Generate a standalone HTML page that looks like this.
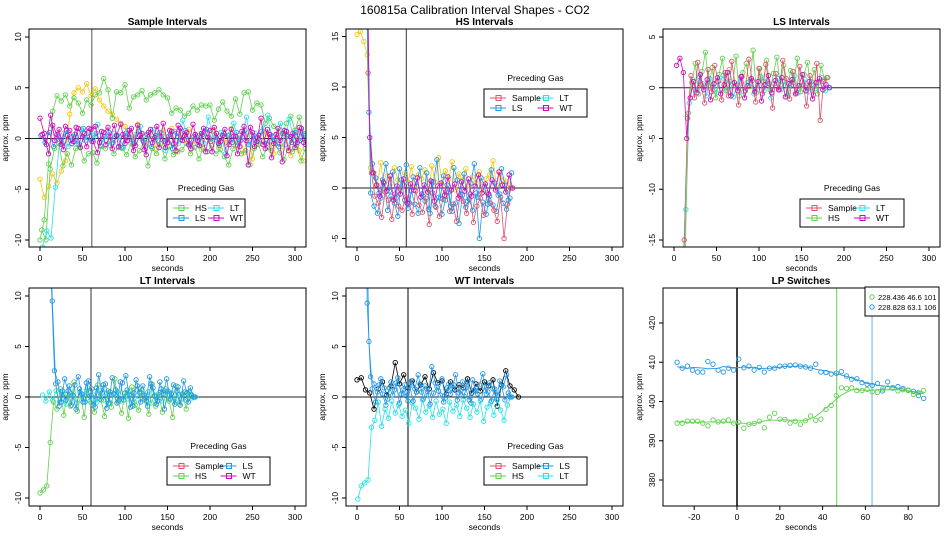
<!DOCTYPE html>
<html><head><meta charset="utf-8"><style>
html,body{margin:0;padding:0;width:950px;height:550px;overflow:hidden;background:#fff}
svg{font-family:"Liberation Sans",Arial,sans-serif;display:block}
</style></head><body>
<svg id="c" width="950" height="550" viewBox="0 0 950 550">
<text x="475" y="14" text-anchor="middle" font-size="12">160815a   Calibration Interval Shapes - CO2</text>
</svg>
<script>
const COL={red:"#DF536B",green:"#61D04F",blue:"#2297E6",cyan:"#28E2E5",magenta:"#CD0BBC",orange:"#F5C710",black:"#000"};
// ---- Panel 1: Sample intervals (t = 0,5,...)
const p1HsHigh=[-10,-8,-2.5,2.7,4.2,3.7,4.3,3.2,4,3.5,2.5,3.8,3.3,4.3,4.5,5.9,4.8,2,4.6,4.5,5.3,3,4.1,4.3,4.7,3.8,4.3,4.5,4.8,4.3,4,2.5,3,2.8,2.2,2.5,3.2,2.8,3.3,3.2,3.3,1.8,2.9,3.6,2.7,2.2,3.9,2.4,4.5,4.6,2.8,3.5,3.3,1.5,2,1.2,1,0.5,1.5,2.2,0.8,2.1,0.5];
const p1HsLow=[-9,-10,-3,-1,-0.5,-2.7,-1.5,-2.6,-1,-0.8,-2.2,-1.5,-1.4,-2.4,-0.8,-1,-0.3,-1.5,-0.9,-1,-1.6,-0.5,-1.8,-1.2,-0.4,-2.7,-1,-1.5,-0.5,-2,-0.8,-1.6,-1.3,-1.1,-0.5,-1.5,-0.9,-2,-1,-1.3,-0.7,-1.5,-1.1,-1.8,-2.6,-1,-0.4,-1.5,-1.2,-2.6,-1,-0.6,-1.8,-0.9,-1.2,-0.5,-1.4,-2.1,-0.9,-1.3,-0.7,-2.2,-1];
const p1Orange=[-4,-5.8,-4.7,-3.5,-4.4,-3.2,-2.2,2.4,4.5,5,4.6,5.4,4.2,4.9,3.8,3.2,2.7,2.4,1.9,1.5,1.2,0.5,-0.2,1.4,0.3,-0.7,0.6,-1,0.2,0.8,-0.5,1,-1.3,0.4,-0.2,0.9,-0.6,0.3,-1.1,0.5,-0.3,0.8,-0.9,0.2,-0.4,1,-0.7,0.3,-1.4,0.6,-2,0.1,-0.5,0.7,-0.3,-1.5,0.4,-0.8,0.2,-1.7,0.5,-1.2,-2.2];
const p1WtA=[2,0.5,-1.5,1.3,0.4,-0.6,1.2,0.8,-0.3,1,0.2,-0.8,0.9,1.2,-0.4,0.6,1.1,-1,0.3,1.4,-0.5,0.8,-1.2,1.3,0.5,-1.6,0.9,0.1,-0.9,1.5,-0.4,0.7,-1.2,1,0.3,-0.6,1.4,-0.2,0.5,-1.3,0.8,1.1,-0.5,0.3,-1.7,0.9,0.2,-0.8,1.2,-2.6,0.6,-0.3,2,-1,0.4,-0.5,1,-2.3,0.7,0.2,-0.9,1.1,-0.4];
const p1WtB=[0.4,-0.6,2.3,-0.2,0.9,-1.1,0.3,-0.5,1.1,-0.9,0.5,1,-0.3,-1.4,0.7,-0.6,0.2,1.3,-0.8,0.4,-0.2,1,-0.7,0.3,-1.1,0.6,-0.4,1.2,0.2,-0.9,0.8,-0.5,1.3,-0.2,0.6,-1,0.4,-0.7,1,0.1,-1.3,0.5,-0.3,0.9,-0.6,0.2,-1.5,0.7,-0.2,1.1,-0.8,0.3,-0.6,0.9,-1.9,0.4,-0.2,0.8,-1.2,0.5,-0.4,1,-0.6];
const p1Lt=[-10.7,-9.1,-9.8,-4.8,-0.3,0.5,-0.8,0.2,-0.5,0.9,-0.2,0.6,0.1,1.4,-0.4,0.3,-0.7,0.5,0.2,-0.9,0.8,-0.3,0.4,1.2,-0.6,0.2,0.9,-0.2,0.5,-1.2,0.3,0.7,-0.5,1.8,0.2,-0.8,0.4,0.1,-0.5,2.1,0.3,-0.2,0.6,-1.5,0.4,1.5,-0.4,0.2,2.1,-0.6,0.5,-0.2,1,2.3,-0.3,0.4,1.5,-0.6,1.9,0.2,-0.4,0.6,0.1];
const p1Ls=[0.3,-0.4,0.6,-0.8,0.2,-0.5,0.8,-0.2,0.4,-0.6,1,0.1,-0.3,0.5,-0.7,0.2,0.6,-0.4,0.3,-0.9,0.5,0.1,-0.5,0.7,-0.2,0.4,-0.8,0.3,0.6,-0.3,0.2,-1,0.5,-0.1,0.8,-0.5,0.2,-0.6,0.4,0.9,-0.3,0.1,-0.7,0.5,0.3,-0.4,0.6,-0.2,0.8,-0.6,0.2,-0.3,0.7,-0.5,0.4,-0.1,-0.8,0.5,0.2,-0.4,0.6,-0.2,0.3];
// ---- Panel 2: HS intervals (t = 0,4,...)
const p2Orange=[15.2,15.5,14.5,13.2,2,1.5,0.3,2.5,-0.2,1.2,0.5,2,0.8,-0.3,1.5,0.6,2.1,0.2,1.3,0.9,1.8,-0.5,2.2,0.6,3,0.4,1.7,0.9,2.6,-0.2,1.4,0.8,1.9,0.2,1.1,0.5,1.6,-0.4,0.9,1.3,2.7,0.3,1.5,0.8,0.6,0];
const p2LsA=[30,30,30,20,-0.5,-1.8,-2.5,-1,0.5,-2.2,-0.8,-1.5,-2.8,0.8,-1.2,-2,-0.3,-1.6,-2.5,-0.6,-1.3,-2.1,0.6,-1.8,-0.9,-2.6,-1.2,-0.4,-2.3,-1.5,-3.5,-0.7,-1.9,-1.1,-2.2,-0.5,-5,-1.4,-2.6,-0.8,-1.7,-2.3,-0.6,-1.5,-2.1,-1];
const p2LsB=[30,30,25,7.5,2.4,1,-0.5,0.8,2.4,-0.3,1.6,-1,1.9,0.4,2.3,-1.5,1.1,0.2,2,-0.8,1.5,-2.5,0.6,2.8,-1,1.2,0.3,-1.8,2,0.8,-0.6,1.4,-1.3,0.5,2.4,-0.9,1,0.2,-1.6,1.8,0.5,-0.7,1.9,0.3,-1.2,1.5];
const p2Sample=[30,30,30,11.4,1.5,-0.8,-1.5,-2.9,-0.4,-1.2,-3.1,-0.6,-1.8,-2.2,-0.9,-1.4,-2.6,-0.3,-1.7,-2.4,-1,-3.6,-0.5,-1.9,-2.8,-1.1,-0.4,-2.3,-1.6,-3.3,-0.8,-1.3,-2.5,-0.6,-3.4,-1.8,-1,-2.7,-0.5,-1.5,-2.2,-3.3,-0.9,-5,-1.6,0];
const p2Wt=[30,30,30,5,1.5,0.3,-0.8,0.6,-0.3,1.2,-1.2,0.2,-0.6,0.9,-1.5,0.4,-0.2,1,-0.9,0.3,-0.4,0.7,-1.3,0.2,0.5,-0.7,1.1,-0.2,0.4,-1,0.6,-0.3,0.9,-0.8,0.2,1.3,-0.5,0.4,-0.6,0.8,-0.2,1.6,0.3,-0.4,1.3,0];
// ---- Panel 3: LS intervals
const p3Sample=[-20,-20,-20,-15,-3,1.2,-1,2.5,0.3,-1.5,1.8,-0.4,2.2,0.6,-1.2,1.5,-0.8,2.6,0.2,-1.7,1.1,-0.3,2.8,0.7,-1.4,1.9,-0.6,2.3,0.4,-2,1.4,-0.2,2.7,0.9,-1.1,1.6,-0.5,2.1,0.3,-1.8,1.2,-0.7,2.4,-3.2,0.6,1];
const p3Hs=[-20,-20,-20,-17,-2.5,0.5,2.4,-0.6,1.6,3.5,0.2,2,-1,1.3,2.9,-0.3,1.8,0.4,3.1,-0.8,1.5,2.4,0.1,3.7,-0.5,1.9,0.6,2.7,-0.2,1.4,3,0.3,2.2,-0.9,1.7,0.5,2.9,-0.4,1.3,2.5,0,1.8,-0.6,2.2,0.8,1];
const p3Wt=[2.2,2.9,1.5,-5,-1,0.6,-0.5,1.3,-0.2,0.8,-1.2,0.4,1,-0.6,0.3,1.5,-0.8,0.5,-0.3,1.1,-1,0.2,0.9,-0.4,0.6,-1.3,0.3,1.2,-0.5,0.7,-0.2,1,-0.9,0.4,0.8,-0.6,0.2,1.3,-0.3,0.6,-1.1,0.5,0.9,-0.2,0.3,0];
const p3Lt=[-20,-20,-20,-12,-1.5,0.8,-0.3,1.1,0.4,-0.8,0.9,0.1,-0.5,0.7,1.2,-0.2,0.6,-0.9,0.3,1,-0.4,0.5,0.8,-0.6,0.2,1.1,-0.3,0.7,-1,0.4,0.9,-0.2,0.6,-0.7,0.3,1.2,-0.5,0.2,0.8,-0.4,0.6,-0.1,0.5,1,-0.3,0];
// ---- Panel 4: LT intervals
const p4Hs=[-9.5,-9.2,-8.8,-4.5,-0.5,-1.2,0.8,-1.8,0.3,-0.9,1.5,-1.4,0.2,-2,0.9,-0.6,-1.5,1.2,-0.3,-1.9,0.6,-1,1.8,-0.5,-1.6,0.4,-2.1,1,-0.8,-1.3,0.7,-0.2,-1.7,1.3,-0.9,0.2,-1.5,0.8,-0.4,-2,1.1,-0.7,0.3,-1.2,0.5,0];
const p4LsA=[30,30,30,12,2.6,1.5,-0.5,1.8,0.6,-0.8,1.2,2,0.3,-0.5,1.6,0.8,-1,2.2,0.4,1.3,-0.6,1.9,0.7,-0.3,1.4,2.1,0.2,-0.9,1.7,0.5,1.1,-0.4,2,0.9,-0.7,1.5,0.3,1.8,-0.2,1.2,0.6,-0.8,1.6,0.4,0.9,0];
const p4LsB=[30,30,20,9.5,1.3,-0.9,0.6,-0.3,1.1,0.2,-1.2,0.8,-0.5,1.4,0.1,-0.8,0.9,-0.2,1.2,-1.1,0.5,0.3,-0.6,1.5,-0.3,0.7,-1,0.4,1.1,-0.5,0.2,-0.9,1.3,0.1,-0.4,0.8,-1.2,0.6,0.3,-0.7,1,-0.2,0.5,-0.5,0.2,0];
const p4Lt=[0.2,-0.4,0.5,-0.3,0.6,-0.5,0.3,-0.7,0.4,0.1,-0.6,0.5,-0.2,0.7,-0.4,0.2,-0.5,0.6,-0.3,0.4,-0.6,0.2,0.5,-0.4,0.3,-0.2,0.6,-0.5,0.1,0.4,-0.3,0.5,-0.6,0.2,0.3,-0.4,0.6,-0.2,0.4,-0.5,0.2,0.3,-0.3,0.5,-0.1,0];
// ---- Panel 5: WT intervals
const p5LsA=[30,30,30,9.3,2,1.3,0.5,1.8,0.9,-0.2,1.5,0.7,1.9,0.3,1.2,-0.4,1.6,0.8,2.2,0.5,1.1,0.2,3,1.4,0.6,1.8,-0.1,1.3,0.8,2.2,0.4,1.5,0.9,-0.3,1.7,0.6,1.2,2.3,0.3,1.4,0.8,-0.2,1.6,1,2.2,0];
const p5LsB=[30,30,25,5.5,0.8,-0.5,1.2,0.3,-0.8,0.9,0.2,1.4,-0.6,0.7,0.1,1.1,-0.4,0.5,1.3,-0.2,0.8,-0.7,0.4,1,0.2,-0.5,0.9,0.3,1.2,-0.3,0.6,0.1,1.5,-0.6,0.7,0.3,-0.2,1,0.5,-0.4,0.8,0.2,1.1,-0.3,0.4,0];
const p5Lt=[-10.1,-8.8,-8.5,-8.2,-3,-2.3,-0.5,-2.9,-1.2,-2.1,-0.4,-1.6,-0.8,-1.9,-1.3,-2.6,-0.6,-1.1,-2.2,-0.3,-1.5,-0.9,-2,-0.4,-1.7,-1.2,-2.6,-0.5,-1.4,-0.8,-1.9,-0.3,-1.1,-2,-0.7,-1.5,-0.4,-2.4,-1,-0.6,-1.8,-0.3,-1.3,-2.3,-0.8,0];
const p5Black=[1.7,1.9,0.7,0.4,-1.2,0.8,1.5,0.2,1.1,3.4,1.3,2.2,0.9,1.6,0.5,1.2,2,0.8,2.4,1.4,1.6,0.3,1.5,0.7,1.2,0.9,1.8,0.4,1.3,0.6,1.5,1.1,1.7,-0.9,1.2,2.6,1.1,0.7,0];
// ---- Panel 6: LP switches (t = -28 + 2.4 i)
const p6Blue=[410,408.5,409,408,407.5,407.5,410.2,409.5,408,407.5,408.5,408,410.8,408.6,409,408,408.7,407.5,408.5,408.5,409,409,409.2,409.3,409,408.8,408.5,409.5,407.5,407.4,407,407.2,407.6,406.5,405.7,405.8,404.8,404.4,404.1,404.6,402.7,405,403.4,403.8,403.3,402.9,402.6,401.5,400.8];
const p6Green=[394.5,394.5,395,395,395,394.5,393.8,395.3,394.8,395,395.3,394.5,394.7,393.2,394.2,394.4,395,393.3,396,397,395.5,395.4,394.5,395,394.2,395.1,396.3,395.2,395.5,398,399,401.5,403.5,403.3,403.5,402.8,402.8,403.1,402.5,402.3,403.2,403.5,403.6,402.7,403,402.8,401.8,402.3,402.8];
const p6Switch=[46.6,63.1];
const xTicks=[0,50,100,150,200,250,300];
const p6XTicks=[-20,0,20,40,60,80];

const NS="http://www.w3.org/2000/svg";
const svg=document.getElementById('c');
function mk(tag,attrs,parent){const e=document.createElementNS(NS,tag);for(const k in attrs)e.setAttribute(k,attrs[k]);(parent||svg).appendChild(e);return e;}
let clipN=0;
function panel(P){
  const g=mk('g',{});
  
  
  const id='clip'+(clipN++);
  const cp=mk('clipPath',{id:id},g);mk('rect',{x:P.L,y:P.T,width:P.R-P.L,height:P.B-P.T},cp);
  const X=t=>P.x0+P.xs*t, Y=v=>P.y0-P.ys*v;
  P.X=X;P.Y=Y;
  const dg=mk('g',{'clip-path':'url(#'+id+')'},g);
  P.dg=dg;
  mk('line',{x1:P.L,x2:P.R,y1:Y(P.href),y2:Y(P.href),stroke:'#222','stroke-width':1},dg);
  (P.vlines||[]).forEach(v=>mk('line',{x1:X(v[0]),x2:X(v[0]),y1:P.T,y2:P.B,stroke:v[1],'stroke-width':v[2]||1},dg));
  const box=mk('rect',{x:P.L,y:P.T,width:P.R-P.L,height:P.B-P.T,fill:'none',stroke:'#000','stroke-width':1},g);
  
  
  const xt=P.xticks;
  mk('line',{x1:X(xt[0]),x2:X(xt[xt.length-1]),y1:P.B,y2:P.B,stroke:'#000'},g);
  xt.forEach(t=>{mk('line',{x1:X(t),x2:X(t),y1:P.B,y2:P.B+4,stroke:'#000'},g);
    const tx=mk('text',{x:X(t),y:P.B+14,'text-anchor':'middle','font-size':8.5},g);tx.textContent=t;
    
    });
  const xl=mk('text',{x:(P.L+P.R)/2,y:P.B+24,'text-anchor':'middle','font-size':8.5},g);xl.textContent='seconds';
  
  
  const yt=P.yticks;
  yt.forEach(v=>{mk('line',{x1:P.L,x2:P.L-4,y1:Y(v),y2:Y(v),stroke:'#000'},g);
    const tx=mk('text',{x:P.L-8,y:Y(v),'text-anchor':'middle','font-size':8.5,transform:`rotate(-90 ${P.L-8} ${Y(v)})`},g);tx.textContent=v;
    
    });
  mk('line',{x1:P.L,x2:P.L,y1:Y(yt[0]),y2:Y(yt[yt.length-1]),stroke:'#000'},g);
  const yl=mk('text',{x:P.L-21,y:(P.T+P.B)/2,'text-anchor':'middle','font-size':8.5,transform:`rotate(-90 ${P.L-21} ${(P.T+P.B)/2})`},g);yl.textContent='approx. ppm';
  
  
  const ti=mk('text',{x:(P.L+P.R)/2,y:P.T-4,'text-anchor':'middle','font-size':10,'font-weight':'bold'},g);ti.textContent=P.title;
  
  
  return P;
}
function series(P,vals,t0,dt,color,name){
  const sg=mk('g',{},P.dg);
  
  
  const pts=vals.map((v,i)=>[P.X(t0+dt*i),P.Y(v)]);
  mk('polyline',{points:pts.map(p=>p.join(',')).join(' '),fill:'none',stroke:color,'stroke-width':0.8},sg);
  pts.forEach(p=>{const c=mk('circle',{cx:p[0],cy:p[1],r:2.2,fill:'none',stroke:color,'stroke-width':0.9},sg);
    
    });
}
function legend(x,y,w,title,items){
  const g=mk('g',{});
  
  
  if(title){const t=mk('text',{x:x+w/2,y:y-8,'text-anchor':'middle','font-size':8.5},g);t.textContent=title;}
  mk('rect',{x:x,y:y,width:w,height:28,fill:'#fff',stroke:'#000'},g);
  items.forEach((it,i)=>{const cx=x+6+(i%2)*(w/2-4),cy=y+9+Math.floor(i/2)*10;
    const e=mk('g',{},g);
    
    
    mk('line',{x1:cx,x2:cx+16,y1:cy,y2:cy,stroke:it[1]},e);
    mk('rect',{x:cx+6,y:cy-2.5,width:5,height:5,fill:'none',stroke:it[1]},e);
    const t=mk('text',{x:cx+22,y:cy+3,'font-size':8.5},e);t.textContent=it[0];});
}
// Panel 1
let P=panel({name:'sample-intervals-panel',title:'Sample Intervals',L:29,R:306,T:29,B:247,x0:40,xs:0.85,y0:138.5,ys:10.15,href:0,vlines:[[61,'#555']],xticks:xTicks,yticks:[-10,-5,0,5,10]});
series(P,p1Orange,0,5,COL.orange,'series-sample-orange');
series(P,p1HsHigh,0,5,COL.green,'series-hs-high');
series(P,p1HsLow,2,5,COL.green,'series-hs-low');
series(P,p1Ls,1,5,COL.blue,'series-ls');
series(P,p1Lt,3,5,COL.cyan,'series-lt');
series(P,p1WtA,0,5,COL.magenta,'series-wt-a');
series(P,p1WtB,2.5,5,COL.magenta,'series-wt-b');
legend(167,199,78,'Preceding Gas',[['HS',COL.green],['LT',COL.cyan],['LS',COL.blue],['WT',COL.magenta]]);
// Panel 2
P=panel({name:'hs-intervals-panel',title:'HS Intervals',L:346,R:623,T:29,B:247,x0:357,xs:0.85,y0:188,ys:10.1,href:0,vlines:[[58,'#333']],xticks:xTicks,yticks:[-5,0,5,10,15]});
series(P,p2Orange,0,4,COL.orange,'series-orange');
series(P,p2LsA,0,4,COL.blue,'series-ls-a');
series(P,p2Sample,1,4,COL.red,'series-sample');
series(P,p2LsB,2,4,COL.blue,'series-ls-b');
series(P,p2Wt,3,4,COL.magenta,'series-wt');
legend(484,89,103,'Preceding Gas',[['Sample',COL.red],['LT',COL.cyan],['LS',COL.blue],['WT',COL.magenta]]);
// Panel 3
P=panel({name:'ls-intervals-panel',title:'LS Intervals',L:663,R:940,T:29,B:247,x0:674,xs:0.85,y0:87.75,ys:10.15,href:0,vlines:[],xticks:xTicks,yticks:[-15,-10,-5,0,5]});
series(P,p3Lt,2,4,COL.cyan,'series-lt');
series(P,p3Hs,1,4,COL.green,'series-hs');
series(P,p3Sample,0,4,COL.red,'series-sample');
series(P,p3Wt,3,4,COL.magenta,'series-wt');
legend(800,199,104,'Preceding Gas',[['Sample',COL.red],['LT',COL.cyan],['HS',COL.green],['WT',COL.magenta]]);
// Panel 4
P=panel({name:'lt-intervals-panel',title:'LT Intervals',L:29,R:306,T:288,B:506,x0:40,xs:0.85,y0:397,ys:10.1,href:0,vlines:[[60,'#333']],xticks:xTicks,yticks:[-10,-5,0,5,10]});
series(P,p4Lt,3,4,COL.cyan,'series-lt');
series(P,p4Hs,0,4,COL.green,'series-hs');
series(P,p4LsA,1,4,COL.blue,'series-ls-a');
series(P,p4LsB,2.5,4,COL.blue,'series-ls-b');
legend(167,457,103,'Preceding Gas',[['Sample',COL.red],['LS',COL.blue],['HS',COL.green],['WT',COL.magenta]]);
// Panel 5
P=panel({name:'wt-intervals-panel',title:'WT Intervals',L:346,R:623,T:288,B:506,x0:357,xs:0.85,y0:397,ys:10.1,href:0,vlines:[[60,'#555',1.5]],xticks:xTicks,yticks:[-10,-5,0,5,10]});
series(P,p5Black,0,5,COL.black,'series-black');
series(P,p5Lt,1,4,COL.cyan,'series-lt');
series(P,p5LsA,0,4,COL.blue,'series-ls-a');
series(P,p5LsB,2,4,COL.blue,'series-ls-b');
legend(484,457,103,'Preceding Gas',[['Sample',COL.red],['LS',COL.blue],['HS',COL.green],['LT',COL.cyan]]);
// Panel 6
P=panel({name:'lp-switches-panel',title:'LP Switches',L:663,R:939,T:288,B:506,x0:737,xs:2.14,y0:323+420*3.925,ys:3.925,href:-1000,vlines:[[0,'#000',1.5],[p6Switch[0],COL.green],[p6Switch[1],'#5AB4EE']],xticks:p6XTicks,yticks:[380,390,400,410,420]});
function smooth(a){return a.map((v,i)=>{let s=0,n=0;for(let k=-3;k<=3;k++){if(a[i+k]!==undefined){s+=a[i+k];n++;}}return s/n;});}
[[p6Blue,COL.blue,'series-lp-blue'],[p6Green,COL.green,'series-lp-green']].forEach(([arr,c,nm])=>{
  const sg=mk('g',{},P.dg);
  
  
  const sm=smooth(arr);
  mk('polyline',{points:sm.map((v,i)=>P.X(-28+2.4*i)+','+P.Y(v)).join(' '),fill:'none',stroke:c,'stroke-width':0.9},sg);
  arr.forEach((v,i)=>{const cc=mk('circle',{cx:P.X(-28+2.4*i),cy:P.Y(v),r:2.2,fill:'none',stroke:c,'stroke-width':0.9},sg);
    
    });
});
(function(){const g=mk('g',{});
  
  
  mk('rect',{x:865,y:287,width:74,height:29,fill:'#fff',stroke:'#000'},g);
  [['228.436 46.6 101',COL.green],['228.828 63.1 106',COL.blue]].forEach((it,i)=>{
    mk('circle',{cx:872,cy:297+i*10,r:2.2,fill:'none',stroke:it[1]},g);
    const t=mk('text',{x:878,y:300+i*10,'font-size':7.5},g);t.textContent=it[0];});
})();
</script>
</body></html>
